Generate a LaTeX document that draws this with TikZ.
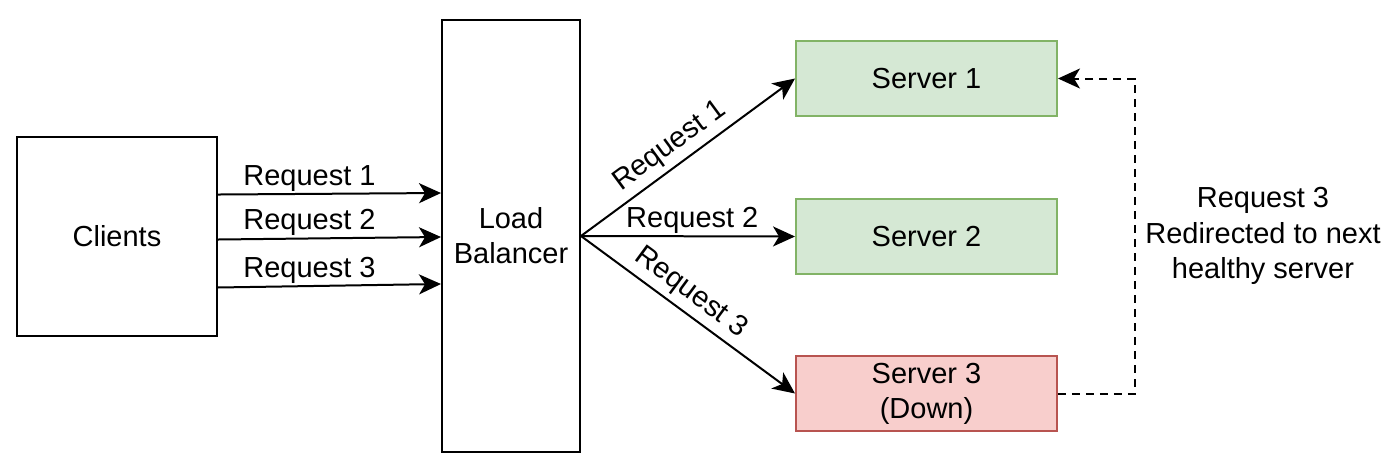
\documentclass[tikz,border=0pt]{standalone}
\usepackage{fontspec}
\setmainfont{Liberation Sans}
\usetikzlibrary{arrows.meta}

\definecolor{okfill}{HTML}{D5E8D4}
\definecolor{okline}{HTML}{82B366}
\definecolor{downfill}{HTML}{F8CECC}
\definecolor{downline}{HTML}{B85450}

\tikzset{
	box/.style={draw, line width=0.04cm, align=center, inner sep=0pt},
	server/.style={box, minimum width=5.22cm, minimum height=1.5cm, draw=okline, fill=okfill},
	downserver/.style={server, draw=downline, fill=downfill},
	req/.style={line width=0.04cm, -{Stealth[length=0.44cm, width=0.4cm, inset=0.12cm]}},
	lbl/.style={inner sep=1pt}
}

\begin{document}
\begin{tikzpicture}[x=0.02cm, y=-0.02cm, font=\fontsize{16.5}{20}\selectfont]
	\useasboundingbox (0, 0) rectangle (1396, 468);

	\node[box, minimum width=4cm, minimum height=3.98cm] (clients) at (117, 236.5) {Clients};
	\node[box, minimum width=2.76cm, minimum height=8.64cm] (lb) at (511, 236) {Load\\Balancer};

	\node[server] (s1) at (926.5, 78.5) {Server 1};
	\node[server] (s2) at (926.5, 236.5) {Server 2};
	\node[downserver] (s3) at (926.5, 393.5) {Server 3\\(Down)};

	\draw[req] ([yshift=0.84cm]clients.east) -- node[lbl, above, pos=0.41] {Request 1} ([yshift=0.86cm]lb.west);
	\draw[req] ([yshift=-0.06cm]clients.east) -- node[lbl, above, pos=0.41] {Request 2} ([yshift=-0.02cm]lb.west);
	\draw[req] ([yshift=-1.02cm]clients.east) -- node[lbl, above, pos=0.41] {Request 3} ([yshift=-0.96cm]lb.west);

	\draw[req] (lb.east) -- node[above, sloped, pos=0.47, inner sep=3pt] {Request 1} (s1.west);
	\draw[req] (lb.east) -- node[lbl, above, pos=0.52] {Request 2} (s2.west);
	\draw[req] (lb.east) -- node[above, sloped, pos=0.46, inner sep=3pt] {Request 3} (s3.west);

	\draw[req, dash pattern=on 0.16cm off 0.12cm] (s3.east) -- ++(77, 0) |- (s1.east);

	\node[align=center] (note) at (1263, 236) {Request 3\\Redirected to next\\healthy server};
\end{tikzpicture}
\end{document}
